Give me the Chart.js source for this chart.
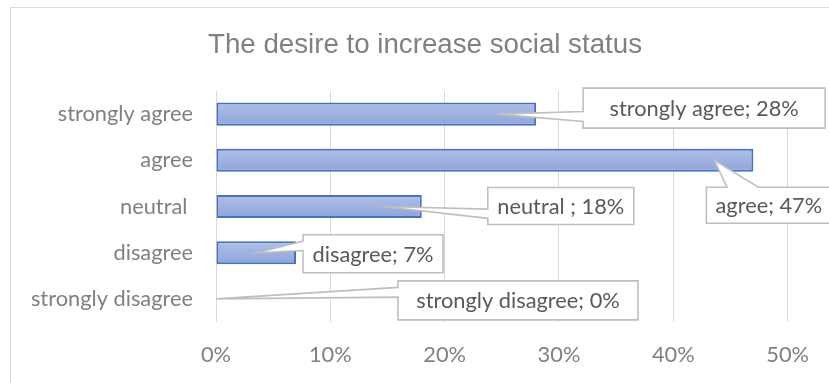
<!DOCTYPE html>
<html>
<head>
<meta charset="utf-8">
<script src="https://cdn.jsdelivr.net/npm/chart.js@4"></script>
<style>
  html, body { margin: 0; padding: 0; background: #fff; }
  canvas { display: block; }
</style>
</head>
<body>
<canvas id="chart" width="829" height="383"></canvas>
<script>
const title = 'The desire to increase social status';
const categories = ['strongly agree', 'agree', 'neutral ', 'disagree', 'strongly disagree'];
const shares = [0.28, 0.47, 0.18, 0.07, 0];
const tickValues = [0, 0.1, 0.2, 0.3, 0.4, 0.5];

// callout boxes: [left, top, width, height] relative to the point the wedge aims at
const calloutBoxes = [
  [86, -26, 242, 40],
  [-8, 27, 125, 36],
  [105, -19, 146, 37],
  [46, -18, 140, 38],
  [182, -18, 240, 39]
];
const anchorInset = 39;

const pct = v => Math.round(v * 100) + '%';

const frame = {
  id: 'frame',
  beforeDraw(chart) {
    const ctx = chart.ctx;
    ctx.save();
    ctx.strokeStyle = '#d9d9d9';
    ctx.lineWidth = 1;
    ctx.strokeRect(10.5, 7.5, 900, 500);
    ctx.fillStyle = '#808080';
    ctx.font = '27.7px "Liberation Sans", Arial, sans-serif';
    ctx.textAlign = 'center';
    ctx.textBaseline = 'alphabetic';
    ctx.fillText(title, 425, 53);
    ctx.restore();
  }
};

// Excel-like wedge callout: rectangle with a pointer to (px, py)
function wedgePath(ctx, l, t, w, h, px, py) {
  const r = l + w, b = t + h;
  const dx = px - (l + w / 2), dy = py - (t + h / 2);
  ctx.beginPath();
  ctx.moveTo(l, t);
  if (Math.abs(dy) > Math.abs(dx * h / w)) {
    const x1 = l + w * (dx > 0 ? 7 : 2) / 12, x2 = l + w * (dx > 0 ? 10 : 5) / 12;
    if (dy < 0) {
      ctx.lineTo(x1, t); ctx.lineTo(px, py); ctx.lineTo(x2, t);
      ctx.lineTo(r, t); ctx.lineTo(r, b); ctx.lineTo(l, b);
    } else {
      ctx.lineTo(r, t); ctx.lineTo(r, b);
      ctx.lineTo(x2, b); ctx.lineTo(px, py); ctx.lineTo(x1, b);
      ctx.lineTo(l, b);
    }
  } else {
    const y1 = t + h * (dy > 0 ? 7 : 2) / 12, y2 = t + h * (dy > 0 ? 10 : 5) / 12;
    if (dx < 0) {
      ctx.lineTo(r, t); ctx.lineTo(r, b); ctx.lineTo(l, b);
      ctx.lineTo(l, y2); ctx.lineTo(px, py); ctx.lineTo(l, y1);
    } else {
      ctx.lineTo(r, t); ctx.lineTo(r, y1); ctx.lineTo(px, py); ctx.lineTo(r, y2);
      ctx.lineTo(r, b); ctx.lineTo(l, b);
    }
  }
  ctx.closePath();
}

const callouts = {
  id: 'callouts',
  afterDatasetsDraw(chart) {
    const ctx = chart.ctx;
    const bars = chart.getDatasetMeta(0).data;
    ctx.save();
    bars.forEach((bar, i) => {
      const px = Math.max(bar.base, bar.x - anchorInset);
      const py = bar.y;
      const [bl, bt, bw, bh] = calloutBoxes[i];
      const l = px + bl, t = py + bt;
      wedgePath(ctx, l, t, bw, bh, px, py);
      ctx.fillStyle = '#fff';
      ctx.fill();
      ctx.strokeStyle = '#bfbfbf';
      ctx.lineWidth = 1.6;
      ctx.lineJoin = 'miter';
      ctx.stroke();
      ctx.fillStyle = '#595959';
      ctx.font = '21.8px Lato, "Open Sans", sans-serif';
      ctx.textAlign = 'center';
      ctx.textBaseline = 'middle';
      ctx.fillText(categories[i] + '; ' + pct(shares[i]), l + bw / 2, t + bh / 2 + 1);
    });
    ctx.restore();
  }
};

new Chart(document.getElementById('chart'), {
  type: 'bar',
  data: {
    labels: categories,
    datasets: [{
      data: shares,
      backgroundColor: (c) => {
        const chart = c.chart;
        const area = chart.chartArea;
        if (!area || !chart.scales.y) return '#a0b2df';
        const mid = chart.scales.y.getPixelForValue(c.dataIndex);
        const half = (area.bottom - area.top) / categories.length * 0.25;
        const g = chart.ctx.createLinearGradient(0, mid - half, 0, mid + half);
        g.addColorStop(0, '#b0bfe7');
        g.addColorStop(1, '#8ea4da');
        return g;
      },
      borderColor: '#4472c4',
      borderWidth: 2,
      borderSkipped: false,
      barPercentage: 0.5,
      categoryPercentage: 1
    }]
  },
  options: {
    indexAxis: 'y',
    responsive: false,
    animation: false,
    layout: { padding: { top: 91, right: 38, bottom: 0, left: 0 } },
    plugins: {
      legend: { display: false },
      tooltip: { enabled: false },
      title: { display: false }
    },
    scales: {
      x: {
        min: 0,
        max: 0.5,
        afterBuildTicks: (scale) => { scale.ticks = tickValues.map(v => ({ value: v })); },
        afterFit: (scale) => { scale.height = 61; },
        grid: { color: '#d9d9d9', lineWidth: 1, drawTicks: false },
        border: { display: false },
        ticks: {
          color: '#808080',
          font: { family: 'Lato', size: 21.8 },
          padding: 20,
          maxRotation: 0,
          callback: (v) => pct(v)
        }
      },
      y: {
        afterFit: (scale) => { scale.width = 216; },
        grid: { display: false, drawTicks: false },
        border: { display: false },
        ticks: {
          color: '#808080',
          font: { family: 'Lato', size: 21.8 },
          padding: 23
        }
      }
    }
  },
  plugins: [frame, callouts]
});
</script>
</body>
</html>
